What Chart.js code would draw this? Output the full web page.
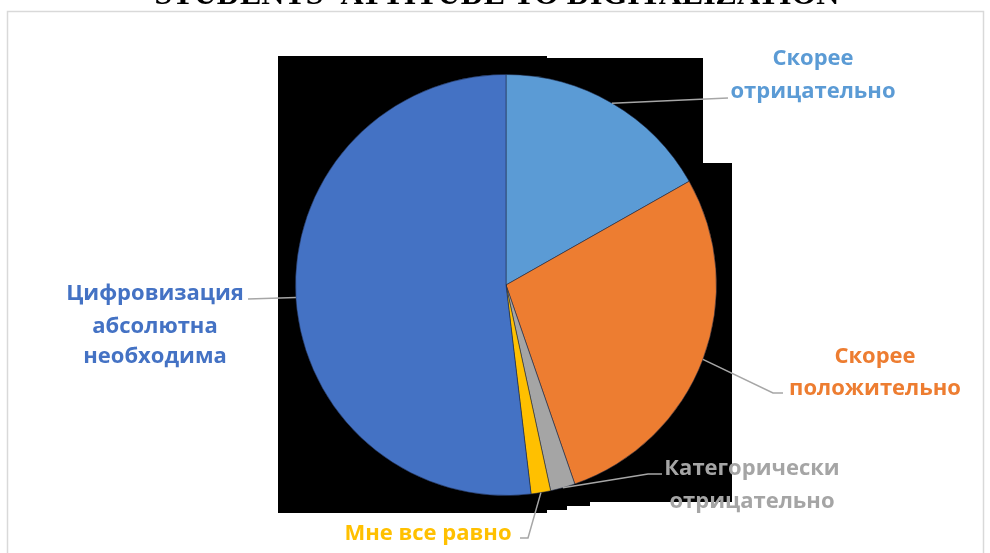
<!DOCTYPE html>
<html>
<head>
<meta charset="utf-8">
<script src="https://cdn.jsdelivr.net/npm/chart.js@4.4.1/dist/chart.umd.min.js"></script>
<style>
  html, body { margin: 0; padding: 0; background: #ffffff; }
  #wrap { width: 990px; height: 553px; position: relative; }
</style>
</head>
<body>
<div id="wrap"><canvas id="c" width="990" height="553"></canvas></div>
<script>
// ---- data ----
const categories = [
  'Скорее отрицательно',
  'Скорее положительно',
  'Категорически отрицательно',
  'Мне все равно',
  'Цифровизация абсолютна необходима'
];
const values = [16.8, 27.9, 1.9, 1.5, 51.9];
const sliceColors = ['#5B9BD5', '#ED7D31', '#A5A5A5', '#FFC000', '#4472C4'];
const labelLines = [
  ['Скорее', 'отрицательно'],
  ['Скорее', 'положительно'],
  ['Категорически', 'отрицательно'],
  ['Мне все равно'],
  ['Цифровизация', 'абсолютна', 'необходима']
];
const titleText = "STUDENTS' ATTITUDE TO DIGITALIZATION";

// ---- layout (annotation placement) ----
const labelLayout = [
  { cx: 813, baselines: [65, 98],        leader: [[728, 98]] },
  { cx: 875, baselines: [363, 395],      leader: [[773, 393], [783, 393]] },
  { cx: 752, baselines: [475, 508],      leader: [[648, 474], [662, 474]] },
  { cx: 428, baselines: [540],           leader: [[528, 538], [520, 538]] },
  { cx: 155, baselines: [300, 333, 363], leader: [[248, 299]] }
];
const blackShape = [[278,56],[547,56],[547,58],[703,58],[703,163],[732,163],[732,502],
  [590,502],[590,506],[567,506],[567,510],[547,510],[547,513],[278,513]];

const decorPlugin = {
  id: 'decor',
  beforeDatasetsDraw(chart) {
    const ctx = chart.ctx;
    ctx.save();
    ctx.fillStyle = '#000000';
    ctx.beginPath();
    blackShape.forEach((p, i) => i ? ctx.lineTo(p[0], p[1]) : ctx.moveTo(p[0], p[1]));
    ctx.closePath();
    ctx.fill();
    ctx.restore();
  },
  afterDraw(chart) {
    const ctx = chart.ctx;
    ctx.save();
    // outer chart border
    ctx.strokeStyle = '#D9D9D9';
    ctx.lineWidth = 1.5;
    ctx.strokeRect(7.5, 11.5, 976, 560);
    // title (cut off at top)
    ctx.fillStyle = '#000000';
    ctx.font = 'bold 32px "Liberation Serif", serif';
    ctx.textAlign = 'center';
    ctx.textBaseline = 'alphabetic';
    ctx.fillText(titleText, 497, 4);

    const meta = chart.getDatasetMeta(0);
    meta.data.forEach((arc, i) => {
      const p = arc.getProps(['x', 'y', 'startAngle', 'endAngle', 'outerRadius'], true);
      const mid = (p.startAngle + p.endAngle) / 2;
      const sx = p.x + Math.cos(mid) * p.outerRadius;
      const sy = p.y + Math.sin(mid) * p.outerRadius;
      const L = labelLayout[i];
      ctx.strokeStyle = '#A6A6A6';
      ctx.lineWidth = 1.5;
      ctx.beginPath();
      ctx.moveTo(sx, sy);
      L.leader.forEach(pt => ctx.lineTo(pt[0], pt[1]));
      ctx.stroke();
      ctx.fillStyle = sliceColors[i];
      ctx.font = 'bold 22px "Open Sans", sans-serif';
      ctx.textAlign = 'center';
      labelLines[i].forEach((t, k) => ctx.fillText(t, L.cx, L.baselines[k]));
    });
    ctx.restore();
  }
};

new Chart(document.getElementById('c'), {
  type: 'pie',
  data: {
    labels: categories,
    datasets: [{
      data: values,
      backgroundColor: sliceColors,
      borderColor: 'rgba(30,40,70,0.55)',
      borderWidth: 1
    }]
  },
  options: {
    responsive: false,
    devicePixelRatio: 1,
    animation: false,
    layout: { padding: { top: 74, bottom: 57, left: 295, right: 273 } },
    plugins: { legend: { display: false }, tooltip: { enabled: false }, title: { display: false } }
  },
  plugins: [decorPlugin]
});
</script>
</body>
</html>
